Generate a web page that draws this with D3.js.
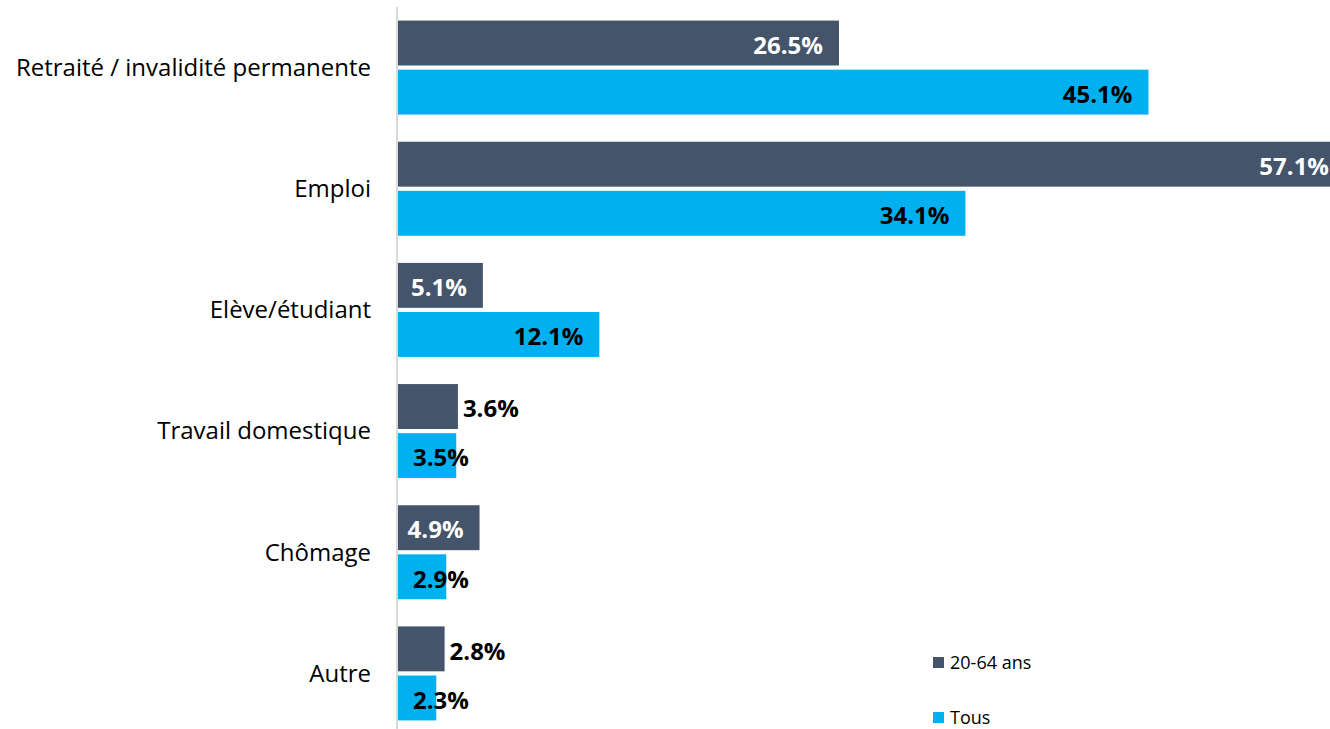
<!DOCTYPE html>
<html>
<head>
<meta charset="utf-8">
<script src="https://cdn.jsdelivr.net/npm/d3@7"></script>
<style>
  body { margin: 0; background: #fff; }
  svg { display: block; font-family: "Open Sans", sans-serif; }
</style>
</head>
<body>
<div id="chart"></div>
<script>
var categories = ["Retraité / invalidité permanente", "Emploi", "Elève/étudiant", "Travail domestique", "Chômage", "Autre"];
var series = ["20-64 ans", "Tous"];
var values2064 = [26.5, 57.1, 5.1, 3.6, 4.9, 2.8];
var valuesTous = [45.1, 34.1, 12.1, 3.5, 2.9, 2.3];
var colors = ["#44546a", "#00b0f0"];

function init() {
    var w = 1330;
    var h = 729;

    var svg = d3.select("#chart")
        .append("svg")
        .attr("width", w)
        .attr("height", h);

    var x = d3.scaleLinear().domain([0, 60]).range([398, 1396.4]);
    var y = d3.scaleBand().domain(categories).range([7, 734])
        .paddingInner(0.224).paddingOuter(0.112);
    var y1 = d3.scaleBand().domain(series).range([0, y.bandwidth()]).paddingInner(0.085);

    var rows = categories.map(function(c, i) {
        return { cat: c, vals: [values2064[i], valuesTous[i]] };
    });

    // axis line
    svg.append("line")
        .attr("x1", 397).attr("x2", 397)
        .attr("y1", 7).attr("y2", h)
        .attr("stroke", "#d9d9d9")
        .attr("stroke-width", 2);

    // category labels
    svg.selectAll("text.cat")
        .data(categories)
        .enter()
        .append("text")
        .attr("class", "cat")
        .attr("x", 371)
        .attr("y", function(d) { return y(d) + y.bandwidth() / 2; })
        .attr("dy", "0.35em")
        .attr("text-anchor", "end")
        .style("font-size", "24px")
        .style("fill", "#000")
        .text(function(d) { return d; });

    var g = svg.selectAll("g.grp")
        .data(rows)
        .enter()
        .append("g")
        .attr("class", "grp")
        .attr("transform", function(d) { return "translate(0," + y(d.cat) + ")"; });

    var cells = g.selectAll("g.bar")
        .data(function(d) {
            return d.vals.map(function(v, k) { return { v: v, s: series[k], k: k }; });
        })
        .enter()
        .append("g")
        .attr("class", "bar");

    cells.append("rect")
        .attr("x", x(0))
        .attr("y", function(d) { return y1(d.s); })
        .attr("width", function(d) { return x(d.v) - x(0); })
        .attr("height", y1.bandwidth())
        .attr("fill", function(d) { return colors[d.k]; });

    cells.append("text")
        .attr("y", function(d) { return y1(d.s) + y1.bandwidth() / 2; })
        .attr("dy", "0.45em")
        .style("font-size", "24px")
        .style("font-weight", "bold")
        .each(function(d) {
            var t = d3.select(this).text(d.v.toFixed(1) + "%");
            var tw = this.getComputedTextLength();
            var end = x(d.v);
            if (d.k === 0) {
                if (end - x(0) > tw + 24) {
                    t.attr("x", Math.min(end - 16, w - 1)).attr("text-anchor", "end").style("fill", "#fff");
                } else {
                    t.attr("x", end + 5).attr("text-anchor", "start").style("fill", "#000");
                }
            } else {
                var sx = Math.max(end - 16 - tw, x(0) + 15);
                t.attr("x", sx).attr("text-anchor", "start").style("fill", "#000");
            }
        });

    // legend
    var leg = svg.selectAll("g.leg")
        .data(series)
        .enter()
        .append("g")
        .attr("class", "leg")
        .attr("transform", function(d, i) { return "translate(933," + (657 + i * 55) + ")"; });

    leg.append("rect")
        .attr("width", 11).attr("height", 11)
        .attr("fill", function(d, i) { return colors[i]; });

    leg.append("text")
        .attr("x", 17)
        .attr("y", 6)
        .attr("dy", "0.35em")
        .style("font-size", "18px")
        .style("fill", "#000")
        .text(function(d) { return d; });
}

window.onload = init;
</script>
</body>
</html>
